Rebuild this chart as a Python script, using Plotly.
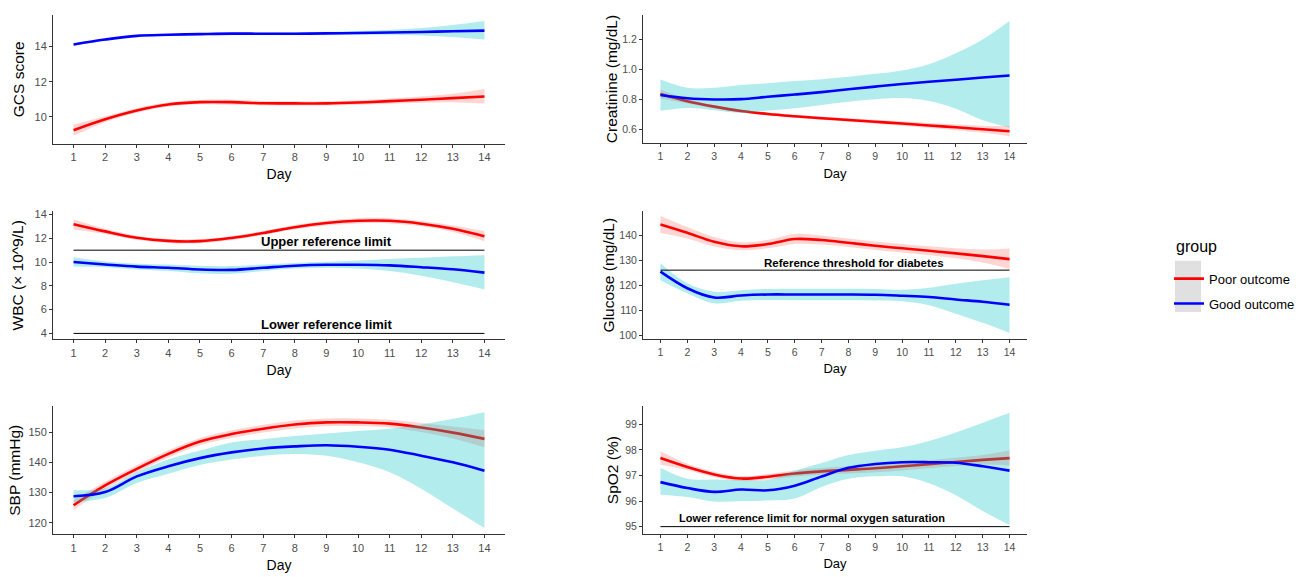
import plotly.graph_objects as go

# ---------------- data ----------------
days = list(range(1, 15))
day_ticks = list(range(1, 15))

gcs_poor = [9.25, 9.87, 10.37, 10.71, 10.84, 10.84, 10.78, 10.77, 10.77, 10.82, 10.90, 10.98, 11.07, 11.16]
gcs_poor_lo = [8.93, 9.70, 10.24, 10.59, 10.72, 10.70, 10.65, 10.65, 10.65, 10.69, 10.75, 10.80, 10.84, 10.76]
gcs_poor_hi = [9.57, 10.04, 10.50, 10.83, 10.96, 10.98, 10.91, 10.89, 10.89, 10.95, 11.05, 11.16, 11.32, 11.59]
gcs_good = [14.11, 14.39, 14.60, 14.66, 14.70, 14.73, 14.72, 14.72, 14.74, 14.76, 14.79, 14.82, 14.86, 14.90]
gcs_good_lo = [14.05, 14.34, 14.55, 14.61, 14.65, 14.67, 14.66, 14.65, 14.66, 14.66, 14.66, 14.62, 14.53, 14.39]
gcs_good_hi = [14.17, 14.44, 14.65, 14.71, 14.75, 14.79, 14.79, 14.80, 14.83, 14.88, 14.95, 15.05, 15.22, 15.45]

cr_poor = [0.835, 0.787, 0.751, 0.722, 0.702, 0.687, 0.674, 0.662, 0.650, 0.638, 0.625, 0.613, 0.600, 0.587]
cr_poor_lo = [0.805, 0.772, 0.740, 0.712, 0.692, 0.677, 0.663, 0.650, 0.637, 0.623, 0.608, 0.593, 0.576, 0.553]
cr_poor_hi = [0.865, 0.802, 0.762, 0.732, 0.712, 0.697, 0.685, 0.674, 0.663, 0.653, 0.642, 0.633, 0.624, 0.621]
cr_good = [0.829, 0.807, 0.799, 0.801, 0.817, 0.832, 0.848, 0.867, 0.885, 0.902, 0.917, 0.931, 0.946, 0.959]
cr_good_lo = [0.723, 0.742, 0.727, 0.709, 0.725, 0.741, 0.762, 0.784, 0.800, 0.808, 0.788, 0.737, 0.660, 0.612]
cr_good_hi = [0.932, 0.877, 0.877, 0.895, 0.908, 0.922, 0.934, 0.951, 0.970, 0.993, 1.035, 1.108, 1.200, 1.323]

wbc_poor = [13.19, 12.58, 12.05, 11.78, 11.76, 12.03, 12.44, 12.93, 13.28, 13.47, 13.47, 13.23, 12.80, 12.17]
wbc_poor_lo = [12.74, 12.36, 11.88, 11.61, 11.59, 11.86, 12.27, 12.75, 13.08, 13.25, 13.25, 13.01, 12.52, 11.75]
wbc_poor_hi = [13.61, 12.80, 12.22, 11.95, 11.93, 12.20, 12.61, 13.11, 13.48, 13.69, 13.69, 13.45, 13.08, 12.62]
wbc_good = [10.00, 9.80, 9.62, 9.52, 9.37, 9.34, 9.52, 9.69, 9.77, 9.77, 9.72, 9.57, 9.39, 9.11]
wbc_good_lo = [9.62, 9.57, 9.38, 9.25, 9.05, 9.02, 9.25, 9.45, 9.52, 9.45, 9.25, 8.85, 8.30, 7.70]
wbc_good_hi = [10.40, 10.04, 9.86, 9.79, 9.69, 9.66, 9.79, 9.93, 10.02, 10.14, 10.26, 10.36, 10.48, 10.58]

glu_poor = [144.2, 140.9, 137.3, 135.5, 136.4, 138.4, 138.0, 136.9, 135.7, 134.7, 133.7, 132.7, 131.6, 130.4]
glu_poor_lo = [140.8, 138.6, 135.4, 133.9, 134.7, 136.4, 136.2, 135.2, 134.0, 133.0, 131.9, 130.7, 129.0, 126.4]
glu_poor_hi = [147.6, 143.2, 139.2, 137.1, 138.1, 140.4, 139.8, 138.6, 137.4, 136.4, 135.5, 134.7, 134.2, 134.6]
glu_good = [125.4, 118.8, 115.1, 115.9, 116.3, 116.3, 116.3, 116.3, 116.2, 115.8, 115.3, 114.3, 113.4, 112.2]
glu_good_lo = [122.0, 116.8, 112.8, 113.8, 114.1, 114.0, 114.0, 114.0, 113.9, 113.6, 112.0, 108.6, 105.0, 101.0]
glu_good_hi = [128.8, 120.8, 117.4, 118.0, 118.5, 118.6, 118.6, 118.6, 118.5, 118.2, 119.0, 120.6, 122.0, 123.2]

sbp_poor = [125.8, 132.4, 137.9, 142.9, 147.0, 149.5, 151.3, 152.7, 153.4, 153.4, 153.0, 151.7, 150.0, 147.9]
sbp_poor_lo = [124.2, 131.2, 136.7, 141.7, 145.8, 148.2, 150.0, 151.4, 152.1, 152.1, 151.7, 150.2, 148.0, 145.1]
sbp_poor_hi = [127.5, 133.6, 139.1, 144.1, 148.2, 150.8, 152.6, 154.0, 154.7, 154.7, 154.3, 153.2, 152.0, 150.8]
sbp_good = [128.8, 130.2, 135.4, 138.8, 141.5, 143.4, 144.7, 145.4, 145.8, 145.3, 144.3, 142.3, 140.1, 137.3]
sbp_good_lo = [126.9, 128.2, 133.2, 136.3, 139.2, 141.0, 142.3, 142.9, 142.3, 140.1, 136.8, 131.3, 124.7, 118.2]
sbp_good_hi = [130.8, 131.5, 136.8, 141.0, 144.0, 146.7, 147.8, 148.9, 149.7, 150.5, 151.3, 152.7, 154.6, 156.8]

spo2_poor = [97.68, 97.33, 97.04, 96.88, 96.95, 97.08, 97.16, 97.22, 97.28, 97.36, 97.44, 97.53, 97.61, 97.68]
spo2_poor_lo = [97.42, 97.21, 96.93, 96.78, 96.84, 96.96, 97.03, 97.08, 97.13, 97.20, 97.28, 97.37, 97.43, 97.39]
spo2_poor_hi = [97.95, 97.46, 97.15, 96.98, 97.06, 97.20, 97.29, 97.36, 97.43, 97.52, 97.60, 97.69, 97.80, 97.98]
spo2_good = [96.74, 96.51, 96.36, 96.45, 96.42, 96.60, 96.96, 97.30, 97.45, 97.52, 97.52, 97.50, 97.36, 97.19]
spo2_good_lo = [96.25, 96.16, 95.98, 96.00, 96.02, 96.10, 96.55, 96.87, 96.97, 96.97, 96.70, 96.23, 95.61, 95.06]
spo2_good_hi = [97.30, 96.87, 96.84, 96.82, 96.83, 97.19, 97.49, 97.80, 97.97, 98.10, 98.35, 98.68, 99.06, 99.45]

group_names = ["Poor outcome", "Good outcome"]
legend_title = "group"
y_titles = ["GCS score", "Creatinine (mg/dL)", "WBC (× 10^9/L)", "Glucose (mg/dL)", "SBP (mmHg)", "SpO2 (%)"]
y_ticks = [[10, 12, 14], [0.6, 0.8, 1.0, 1.2], [4, 6, 8, 10, 12, 14],
           [100, 110, 120, 130, 140], [120, 130, 140, 150], [95, 96, 97, 98, 99]]
y_ranges = [[8.48, 15.79], [0.505, 1.366], [3.5, 14.28], [98.54, 149.5], [116.1, 158.8], [94.71, 99.71]]

wbc_refs = [11, 4]
wbc_ref_labels = ["Upper reference limit", "Lower reference limit"]
glu_ref = 126
glu_ref_label = "Reference threshold for diabetes"
spo2_ref = 95
spo2_ref_label = "Lower reference limit for normal oxygen saturation"

# ---------------- styling ----------------
W, H = 1309, 577
FONT = "Liberation Sans, Arial, sans-serif"
RED, BLUE = "#FF0000", "#0000FF"
RED_FILL, BLUE_FILL = "rgba(248,118,109,0.3)", "rgba(0,191,196,0.3)"

def px_x(a, b):
    return [a / W, b / W]

def px_y(top, bottom):
    return [1 - bottom / H, 1 - top / H]

left_x, right_x = px_x(53, 505), px_x(643, 1027)
domains = [
    (left_x, px_y(12, 142)), (right_x, px_y(11.7, 141.7)),
    (left_x, px_y(210, 339.3)), (right_x, px_y(210, 339)),
    (left_x, px_y(406.7, 536)), (right_x, px_y(406.7, 535.7)),
]
y_standoffs = [6, 0, 7, 0, 3, 2]

panels = [
    (gcs_poor, gcs_poor_lo, gcs_poor_hi, gcs_good, gcs_good_lo, gcs_good_hi),
    (cr_poor, cr_poor_lo, cr_poor_hi, cr_good, cr_good_lo, cr_good_hi),
    (wbc_poor, wbc_poor_lo, wbc_poor_hi, wbc_good, wbc_good_lo, wbc_good_hi),
    (glu_poor, glu_poor_lo, glu_poor_hi, glu_good, glu_good_lo, glu_good_hi),
    (sbp_poor, sbp_poor_lo, sbp_poor_hi, sbp_good, sbp_good_lo, sbp_good_hi),
    (spo2_poor, spo2_poor_lo, spo2_poor_hi, spo2_good, spo2_good_lo, spo2_good_hi),
]

fig = go.Figure()

def band_and_line(xa, ya, mean, lo, hi, color, fill, name, show):
    fig.add_trace(go.Scatter(x=days, y=lo, xaxis=xa, yaxis=ya, mode="lines",
                             line=dict(width=0, shape="spline"), showlegend=False,
                             hoverinfo="skip"))
    fig.add_trace(go.Scatter(x=days, y=hi, xaxis=xa, yaxis=ya, mode="lines",
                             line=dict(width=0, shape="spline"), fill="tonexty",
                             fillcolor=fill, showlegend=False, hoverinfo="skip"))
    fig.add_trace(go.Scatter(x=days, y=mean, xaxis=xa, yaxis=ya, mode="lines",
                             line=dict(color=color, width=2.6, shape="spline"),
                             name=name, legendgroup=name, showlegend=show))

for i, (pm, pl, ph, gm, gl, gh) in enumerate(panels):
    xa = "x" if i == 0 else f"x{i+1}"
    ya = "y" if i == 0 else f"y{i+1}"
    band_and_line(xa, ya, pm, pl, ph, RED, RED_FILL, group_names[0], i == 0)
    band_and_line(xa, ya, gm, gl, gh, BLUE, BLUE_FILL, group_names[1], i == 0)

# reference lines
def ref_line(xa, ya, val):
    fig.add_trace(go.Scatter(x=[days[0], days[-1]], y=[val, val], xaxis=xa, yaxis=ya,
                             mode="lines", line=dict(color="#000000", width=1),
                             showlegend=False, hoverinfo="skip"))

for v in wbc_refs:
    ref_line("x3", "y3", v)
ref_line("x4", "y4", glu_ref)
ref_line("x6", "y6", spo2_ref)

annotations = []
for v, lab in zip(wbc_refs, wbc_ref_labels):
    annotations.append(dict(x=9, y=v, xref="x3", yref="y3", text=f"<b>{lab}</b>",
                            showarrow=False, yanchor="bottom", yshift=-1,
                            font=dict(family=FONT, size=13, color="#000000")))
annotations.append(dict(x=8.2, y=glu_ref, xref="x4", yref="y4", text=f"<b>{glu_ref_label}</b>",
                        showarrow=False, yanchor="bottom", yshift=-1,
                        font=dict(family=FONT, size=11.5, color="#000000")))
annotations.append(dict(x=6.65, y=spo2_ref, xref="x6", yref="y6", text=f"<b>{spo2_ref_label}</b>",
                        showarrow=False, yanchor="bottom", yshift=1,
                        font=dict(family=FONT, size=11, color="#000000")))
# legend title
annotations.append(dict(x=1174 / W, y=1 - 245.7 / H, xref="paper", yref="paper",
                        text=legend_title, showarrow=False, xanchor="left", yanchor="middle",
                        font=dict(family=FONT, size=16, color="#000000")))

layout = dict(
    width=W, height=H, margin=dict(l=0, r=0, t=0, b=0),
    paper_bgcolor="white", plot_bgcolor="white",
    font=dict(family=FONT, color="#000000"),
    annotations=annotations,
    legend=dict(x=1169 / W, y=1 - 263 / H, xanchor="left", yanchor="top",
                font=dict(size=13, family=FONT, color="#000000"),
                bgcolor="rgba(0,0,0,0)", borderwidth=0, tracegroupgap=5, itemwidth=30),
    shapes=[dict(type="rect", xref="paper", yref="paper",
                 x0=1175 / W, x1=1201 / W, y0=1 - 311.7 / H, y1=1 - 260 / H,
                 fillcolor="#E0E0E0", line=dict(width=0), layer="below")],
)

for i, (dx, dy) in enumerate(domains):
    left = i % 2 == 0
    tick_size = 11 if left else 10.5
    xk = "xaxis" if i == 0 else f"xaxis{i+1}"
    yk = "yaxis" if i == 0 else f"yaxis{i+1}"
    ya = "y" if i == 0 else f"y{i+1}"
    xa = "x" if i == 0 else f"x{i+1}"
    layout[xk] = dict(domain=dx, anchor=ya, range=[0.35, 14.65], tickvals=day_ticks,
                      showline=True, linecolor="#333333", linewidth=1, ticks="outside",
                      ticklen=3, tickcolor="#333333", showgrid=False, zeroline=False,
                      tickfont=dict(size=tick_size, color="#4D4D4D", family=FONT),
                      title=dict(text="Day", standoff=7,
                                 font=dict(size=14 if left else 13, color="#000000", family=FONT)))
    layout[yk] = dict(domain=dy, anchor=xa, range=y_ranges[i], tickvals=y_ticks[i],
                      tickformat=".1f" if i == 1 else "d",
                      showline=True, linecolor="#333333", linewidth=1, ticks="outside",
                      ticklen=3, tickcolor="#333333", showgrid=False, zeroline=False,
                      tickfont=dict(size=tick_size, color="#4D4D4D", family=FONT),
                      title=dict(text=y_titles[i], standoff=y_standoffs[i],
                                 font=dict(size=15.5, color="#000000", family=FONT)))

fig.update_layout(**layout)
fig.write_html("out.html", config={"displayModeBar": False},
               post_script="document.body.style.margin='0';document.body.style.overflow='hidden';")
